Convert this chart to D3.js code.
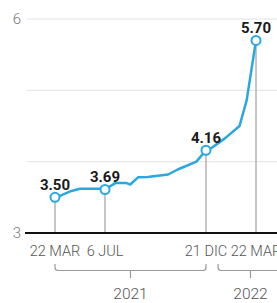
<!DOCTYPE html>
<html>
<head>
<meta charset="utf-8">
<script src="https://cdn.jsdelivr.net/npm/d3@7"></script>
<style>
  html, body { margin: 0; padding: 0; background: #fff; }
  svg { display: block; }
</style>
</head>
<body>
<svg id="chart" width="277" height="303"></svg>
<script>
// ---- data ----
const lineDates = ["2021-03-22","2021-04-05","2021-04-26","2021-05-14","2021-06-25","2021-07-06",
  "2021-07-23","2021-08-11","2021-08-17","2021-08-30","2021-09-15","2021-10-19","2021-11-04",
  "2021-12-05","2021-12-21","2021-12-31","2022-01-25","2022-02-20","2022-03-05","2022-03-22"];
const lineValues = [3.50,3.53,3.59,3.62,3.62,3.61,3.70,3.70,3.68,3.78,3.785,3.82,3.89,4.00,4.16,4.19,4.33,4.50,4.86,5.70];

const keyDates = ["2021-03-22","2021-07-06","2021-12-21","2022-03-22"];
const keyTickLabels = ["22 MAR","6 JUL","21 DIC","22 MAR"];
const keyValueLabels = ["3.50","3.69","4.16","5.70"];

const yTicks = [3,4,5,6];
const yTickLabels = ["3","","","6"];

const yearLabels = ["2021","2022"];
const yearStarts = ["2021-03-22","2022-01-12"];
const yearEnds = ["2021-12-21","2022-05-10"];

// ---- setup ----
const parse = d3.timeParse("%Y-%m-%d");
const svg = d3.select("#chart");

const x = d3.scaleTime()
  .domain(keyDates.map(parse))
  .range([55, 105, 206, 256]);
const y = d3.scaleLinear().domain([3, 6]).range([233, 19]);

const blue = "#2aa7e1";
const fontR = "Roboto, 'Liberation Sans', sans-serif";

// grid lines
svg.append("g").selectAll("line")
  .data(yTicks.filter(v => v !== 3))
  .join("line")
  .attr("x1", 27).attr("x2", 277)
  .attr("y1", d => y(d)).attr("y2", d => y(d))
  .attr("stroke", "#e2e2e2").attr("stroke-width", 1);

// y labels
svg.append("g").selectAll("text")
  .data(yTicks.map((v, i) => ({v, t: yTickLabels[i]})).filter(d => d.t))
  .join("text")
  .attr("x", 21).attr("y", d => y(d.v))
  .attr("dy", "0.36em")
  .attr("text-anchor", "end")
  .attr("font-family", fontR).attr("font-weight", 300)
  .attr("font-size", 15).attr("fill", "#777")
  .text(d => d.t);

const keys = keyDates.map((d, i) => {
  const idx = lineDates.indexOf(d);
  return { date: parse(d), value: lineValues[idx], tick: keyTickLabels[i], label: keyValueLabels[i] };
});

// drop lines
svg.append("g").selectAll("line")
  .data(keys)
  .join("line")
  .attr("x1", d => x(d.date)).attr("x2", d => x(d.date))
  .attr("y1", d => y(d.value)).attr("y2", y(3))
  .attr("stroke", "#a8a8a8").attr("stroke-width", 1.3);

// baseline axis
svg.append("line")
  .attr("x1", 25).attr("x2", 277)
  .attr("y1", y(3)).attr("y2", y(3))
  .attr("stroke", "#111").attr("stroke-width", 2);

// tick labels
svg.append("g").selectAll("text")
  .data(keys)
  .join("text")
  .attr("x", d => x(d.date)).attr("y", 256)
  .attr("text-anchor", "middle")
  .attr("font-family", fontR).attr("font-weight", 300)
  .attr("font-size", 14.5).attr("fill", "#555")
  .text(d => d.tick);

// year brackets
const years = yearLabels.map((t, i) => ({ t, x0: x(parse(yearStarts[i])), x1: x(parse(yearEnds[i])) }));
const by0 = 264, by1 = 270.5, r = 3;
svg.append("g").selectAll("path")
  .data(years)
  .join("path")
  .attr("d", d => {
    const xm = (d.x0 + d.x1) / 2;
    return `M${d.x0},${by0} V${by1 - r} Q${d.x0},${by1} ${d.x0 + r},${by1} H${d.x1 - r} Q${d.x1},${by1} ${d.x1},${by1 - r} V${by0}` +
           ` M${xm},${by1} V${by1 + 7.5}`;
  })
  .attr("fill", "none").attr("stroke", "#9a9a9a").attr("stroke-width", 1.2);

svg.append("g").selectAll("text")
  .data(years)
  .join("text")
  .attr("x", d => (d.x0 + d.x1) / 2).attr("y", 299)
  .attr("text-anchor", "middle")
  .attr("font-family", fontR).attr("font-weight", 300)
  .attr("font-size", 15.5).attr("fill", "#555")
  .text(d => d.t);

// line
const pts = lineDates.map((d, i) => ({ date: parse(d), value: lineValues[i] }));
svg.append("path")
  .datum(pts)
  .attr("d", d3.line().x(d => x(d.date)).y(d => y(d.value)))
  .attr("fill", "none").attr("stroke", blue)
  .attr("stroke-width", 2.5).attr("stroke-linejoin", "round").attr("stroke-linecap", "round");

// circles
svg.append("g").selectAll("circle")
  .data(keys)
  .join("circle")
  .attr("cx", d => x(d.date)).attr("cy", d => y(d.value))
  .attr("r", 4.5)
  .attr("fill", "#fff").attr("stroke", blue).attr("stroke-width", 2);

// value labels
svg.append("g").selectAll("text")
  .data(keys)
  .join("text")
  .attr("x", d => x(d.date)).attr("y", d => y(d.value) - 7.5)
  .attr("text-anchor", "middle")
  .attr("font-family", fontR).attr("font-weight", 700)
  .attr("font-size", 15).attr("fill", "#1a1a1a")
  .text(d => d.label);
</script>
</body>
</html>
